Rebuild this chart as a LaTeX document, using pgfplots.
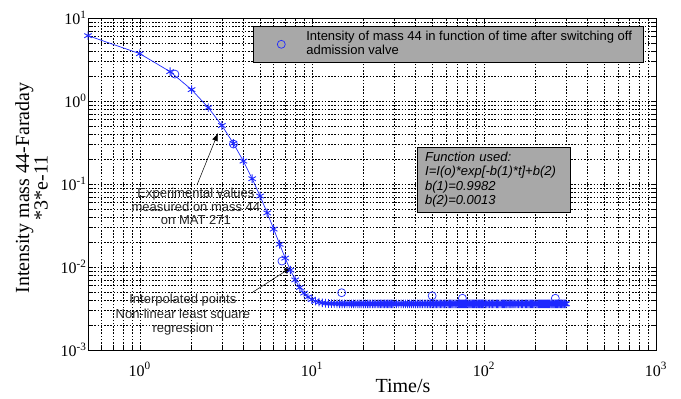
\documentclass[border=0pt]{standalone}
\usepackage{pgfplots}
\pgfplotsset{compat=1.18}
\usepackage{fontspec}
\setmainfont{Liberation Serif}
\newfontfamily\arial{Liberation Sans}
\usetikzlibrary{arrows.meta}
\definecolor{boxgray}{gray}{0.66}
\definecolor{mblue}{RGB}{30,40,255}
\begin{document}
\begin{tikzpicture}
\path[use as bounding box] (-88pt,-49pt) rectangle (593pt,350pt);
\begin{axis}[
  width=568pt, height=332pt, scale only axis,
  xmode=log, ymode=log,
  xmin=0.5, xmax=1000, ymin=0.001, ymax=10,
  xtick={1,10,100,1000},
  xticklabels={10\textsuperscript{0},10\textsuperscript{1},10\textsuperscript{2},10\textsuperscript{3}},
  ytick={0.001,0.01,0.1,1,10},
  yticklabels={10\textsuperscript{-3},10\textsuperscript{-2},10\textsuperscript{-1},10\textsuperscript{0},10\textsuperscript{1}},
  minor xtick={0.6,0.7,0.8,0.9,2,3,4,5,6,7,8,9,20,30,40,50,60,70,80,90,200,300,400,500,600,700,800,900},
  minor ytick={0.002,0.003,0.004,0.005,0.006,0.007,0.008,0.009,0.02,0.03,0.04,0.05,0.06,0.07,0.08,0.09,0.2,0.3,0.4,0.5,0.6,0.7,0.8,0.9,2,3,4,5,6,7,8,9},
  grid=both,
  major grid style={black, line width=0.5pt, dash pattern=on 1.6pt off 1.6pt},
  minor grid style={black, line width=0.5pt, dash pattern=on 1.6pt off 1.6pt},
  tick style={black, line width=0.5pt},
  major tick length=5pt, minor tick length=3pt,
  axis line style={black, line width=0.7pt},
  tick label style={font=\fontsize{16}{16}\selectfont},
  xticklabel style={yshift=-9pt},
  yticklabel style={xshift=2pt},
  xlabel={Time/s},
  ylabel={Intensity mass 44-Faraday\\*3*e-11},
  label style={font=\fontsize{20}{17}\selectfont},
  xlabel style={at={(axis description cs:0.5546,-0.108)}, anchor=center},
  ylabel style={at={(axis description cs:-0.0995,0.488)}, anchor=center, align=center},
  legend style={at={(rel axis cs:0.2905,0.9759)}, anchor=north west, fill=boxgray, draw=black, line width=0.6pt,
    font=\arial\fontsize{13}{14}\selectfont, inner xsep=0pt, inner ysep=4pt, text=black,
    nodes={inner sep=0pt, text depth=}},
  legend cell align=left,
  legend image code/.code={\path[draw=none, fill=none] (0pt,0pt) -- (53pt,0pt); \draw[#1, only marks] plot coordinates {(28pt,0pt)};},
]
\addplot[mblue, only marks, mark=o, mark size=4pt, mark options={line width=0.7pt}]
  table[row sep=\\]{
  t I\\
  1.6 2.11\\
  3.5 0.303\\
  6.7 0.0118\\
  14.9 0.0049\\
  50 0.0045\\
  75 0.0042\\
  260 0.0042\\
  };
\addlegendentry{\parbox[c]{337pt}{\strut Intensity of mass 44 in function of time after switching off\\admission valve\strut}}
\addplot[mblue, line width=0.7pt, mark=asterisk, mark size=4.3pt, mark options={solid, line width=0.9pt}, forget plot]
  table[row sep=\\]{
  t I\\
  0.5 6.130\\ 1 3.719\\ 1.5 2.257\\ 2 1.370\\ 2.5 0.8327\\ 3 0.5065\\ 3.5 0.3086\\ 4 0.1886\\
  4.5 0.1158\\ 5 0.07165\\ 5.5 0.04488\\ 6 0.02864\\ 6.5 0.01878\\ 7 0.01281\\ 7.5 0.009186\\
  8 0.006988\\ 8.5 0.005655\\ 9 0.004846\\ 9.5 0.004356\\ 10 0.004059\\ 10.5 0.003878\\
  11 0.003769\\ 11.5 0.003702\\ 12 0.003662\\ 12.5 0.003638\\ 13 0.003623\\ 13.5 0.003614\\
  14 0.003608\\ 14.5 0.003605\\ 15 0.003603\\ 15.5 0.003602\\ 16 0.003601\\
  16.5 0.0036\\ 17 0.0036\\ 17.5 0.0036\\ 18 0.0036\\ 18.5 0.0036\\ 19 0.0036\\ 19.5 0.0036\\ 20 0.0036\\
  20.5 0.0036\\ 21 0.0036\\ 21.5 0.0036\\ 22 0.0036\\ 22.5 0.0036\\ 23 0.0036\\ 23.5 0.0036\\ 24 0.0036\\
  24.5 0.0036\\ 25 0.0036\\ 25.5 0.0036\\ 26 0.0036\\ 26.5 0.0036\\ 27 0.0036\\ 27.5 0.0036\\ 28 0.0036\\
  28.5 0.0036\\ 29 0.0036\\ 29.5 0.0036\\ 30 0.0036\\
  31 0.0036\\ 32 0.0036\\ 33 0.0036\\ 34 0.0036\\ 35 0.0036\\ 36 0.0036\\ 37 0.0036\\ 38 0.0036\\ 39 0.0036\\ 40 0.0036\\
  41 0.0036\\ 42 0.0036\\ 43 0.0036\\ 44 0.0036\\ 45 0.0036\\ 46 0.0036\\ 47 0.0036\\ 48 0.0036\\ 49 0.0036\\ 50 0.0036\\
  51 0.0036\\ 52 0.0036\\ 53 0.0036\\ 54 0.0036\\ 55 0.0036\\ 56 0.0036\\ 57 0.0036\\ 58 0.0036\\ 59 0.0036\\ 60 0.0036\\
  61 0.0036\\ 62 0.0036\\ 63 0.0036\\ 64 0.0036\\ 65 0.0036\\ 66 0.0036\\ 67 0.0036\\ 68 0.0036\\ 69 0.0036\\ 70 0.0036\\
  71 0.0036\\ 72 0.0036\\ 73 0.0036\\ 74 0.0036\\ 75 0.0036\\ 76 0.0036\\ 77 0.0036\\ 78 0.0036\\ 79 0.0036\\ 80 0.0036\\
  81 0.0036\\ 82 0.0036\\ 83 0.0036\\ 84 0.0036\\ 85 0.0036\\ 86 0.0036\\ 87 0.0036\\ 88 0.0036\\ 89 0.0036\\ 90 0.0036\\
  91 0.0036\\ 92 0.0036\\ 93 0.0036\\ 94 0.0036\\ 95 0.0036\\ 96 0.0036\\ 97 0.0036\\ 98 0.0036\\ 99 0.0036\\ 100 0.0036\\
  102 0.0036\\ 104 0.0036\\ 106 0.0036\\ 108 0.0036\\ 110 0.0036\\ 112 0.0036\\ 114 0.0036\\ 116 0.0036\\ 118 0.0036\\ 120 0.0036\\
  122 0.0036\\ 124 0.0036\\ 126 0.0036\\ 128 0.0036\\ 130 0.0036\\ 132 0.0036\\ 134 0.0036\\ 136 0.0036\\ 138 0.0036\\ 140 0.0036\\
  142 0.0036\\ 144 0.0036\\ 146 0.0036\\ 148 0.0036\\ 150 0.0036\\ 153 0.0036\\ 156 0.0036\\ 159 0.0036\\ 162 0.0036\\ 165 0.0036\\
  168 0.0036\\ 171 0.0036\\ 174 0.0036\\ 177 0.0036\\ 180 0.0036\\ 183 0.0036\\ 186 0.0036\\ 189 0.0036\\ 192 0.0036\\ 195 0.0036\\
  198 0.0036\\ 201 0.0036\\ 204 0.0036\\ 207 0.0036\\ 210 0.0036\\ 213 0.0036\\ 216 0.0036\\ 219 0.0036\\ 222 0.0036\\ 225 0.0036\\
  228 0.0036\\ 231 0.0036\\ 234 0.0036\\ 237 0.0036\\ 240 0.0036\\ 243 0.0036\\ 246 0.0036\\ 249 0.0036\\ 252 0.0036\\ 255 0.0036\\
  258 0.0036\\ 261 0.0036\\ 264 0.0036\\ 267 0.0036\\ 270 0.0036\\ 273 0.0036\\ 276 0.0036\\ 279 0.0036\\ 282 0.0036\\ 285 0.0036\\
  288 0.0036\\ 291 0.0036\\ 294 0.0036\\ 297 0.0036\\ 300 0.0036\\
  };
\node[draw=black, fill=boxgray, anchor=north west, minimum width=153pt, minimum height=65pt,
  text width=137pt, inner xsep=8pt, align=left, font=\arial\itshape\fontsize{13}{14.5}\selectfont]
  at (rel axis cs:0.5792,0.6114) {Function used:\\I=I(o)*exp[-b(1)*t]+b(2)\\b(1)=0.9982\\b(2)=0.0013};
\node[align=center, text=black!85, font=\arial\fontsize{13}{13.5}\selectfont] at (rel axis cs:0.190,0.432)
  {Experimental values\\measured on mass 44\\on MAT 271};
\node[align=center, text=black!85, font=\arial\fontsize{13}{14.5}\selectfont] at (rel axis cs:0.167,0.1054)
  {Interpolated points\\Non-linear least square\\regression};
\draw[-{Latex[length=8pt,width=6pt]}, black, line width=0.5pt] (rel axis cs:0.1919,0.4970) -- (rel axis cs:0.2289,0.6536);
\draw[-{Latex[length=8pt,width=6pt]}, black, line width=0.5pt] (rel axis cs:0.2905,0.1747) -- (rel axis cs:0.3592,0.2500);
\end{axis}
\end{tikzpicture}
\end{document}
